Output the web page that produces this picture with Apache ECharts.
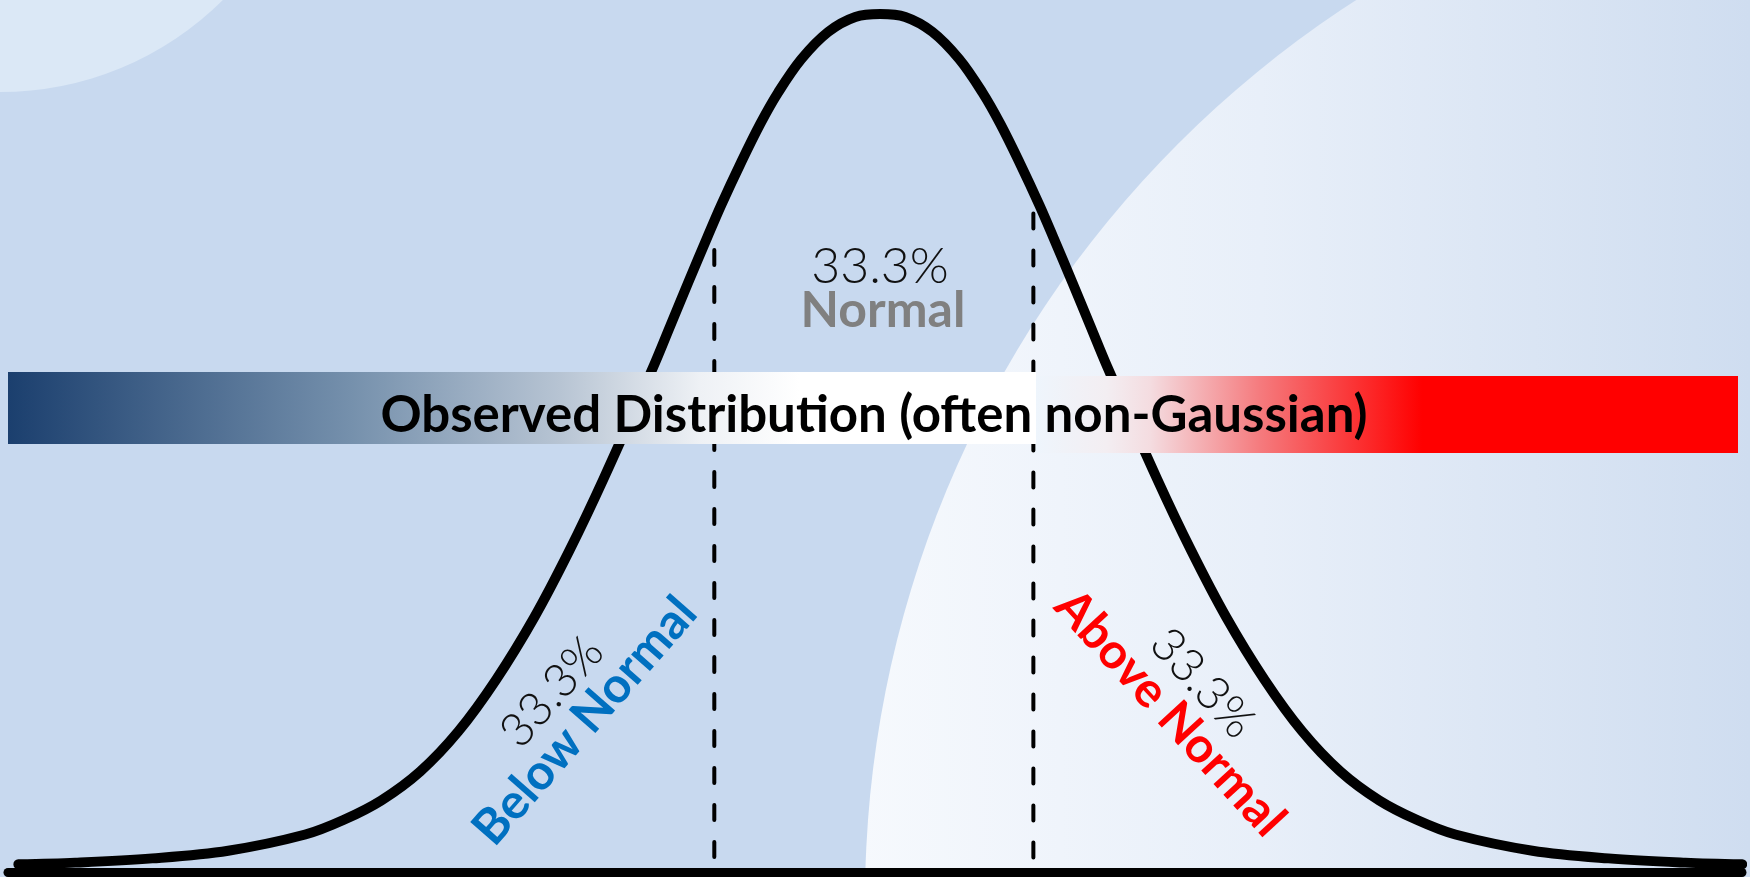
<!DOCTYPE html>
<html>
<head>
<meta charset="utf-8">
<script src="https://cdn.jsdelivr.net/npm/echarts@6/dist/echarts.min.js"></script>
<style>
  html, body { margin: 0; padding: 0; background: #c8d9ef; overflow: hidden; }
  #chart { width: 1750px; height: 877px; }
</style>
</head>
<body>
<div id="chart"></div>
<script>
// Bell curve, sampled in standard-deviation units (z) with relative density (peak = 1)
const curveZ = [
  -4.071, -3.802, -3.439, -3.080, -2.716, -2.536, -2.357, -2.173, -1.993, -1.814,
  -1.634, -1.469, -1.308, -1.072, -0.992, -0.907, -0.817, -0.751, -0.661, -0.567,
  -0.482, -0.373, -0.246, -0.118, 0.000, 0.118, 0.246, 0.373, 0.482, 0.567,
  0.661, 0.751, 0.817, 0.907, 0.992, 1.072, 1.308, 1.469, 1.634, 1.814,
  1.993, 2.173, 2.357, 2.536, 2.716, 3.080, 3.439, 3.802, 4.071
];
const curveDensity = [
  0.002, 0.004, 0.009, 0.018, 0.037, 0.054, 0.077, 0.111, 0.158, 0.219,
  0.292, 0.370, 0.454, 0.586, 0.634, 0.685, 0.738, 0.776, 0.824, 0.871,
  0.908, 0.947, 0.979, 0.9965, 1.000, 0.9965, 0.979, 0.947, 0.908, 0.871,
  0.824, 0.776, 0.738, 0.685, 0.634, 0.586, 0.454, 0.370, 0.292, 0.219,
  0.158, 0.111, 0.077, 0.054, 0.037, 0.018, 0.009, 0.004, 0.002
];

// Tercile boundaries (z) and the height where each dashed divider meets the curve
const dividerZ = [-0.784, 0.723];
const dividerTop = [0.723, 0.766];
const dividerBottom = -0.006;

// Category labels
const tercileNames = ['Below Normal', 'Normal', 'Above Normal'];
const tercileShares = ['33.3%', '33.3%', '33.3%'];
const bannerTitle = 'Observed Distribution (often non-Gaussian)';

const FONT = 'Lato, "Open Sans", "DejaVu Sans", sans-serif';
const chart = echarts.init(document.getElementById('chart'), null, { renderer: 'canvas' });

const curveData = curveZ.map((z, i) => [z, curveDensity[i]]);

const dividerSeries = dividerZ.map((z, i) => ({
  type: 'line',
  data: [[z, dividerTop[i]], [z, dividerBottom]],
  showSymbol: false,
  silent: true,
  clip: false,
  z: 2,
  lineStyle: { color: '#000', width: 4, type: [15, 22], cap: 'round' }
}));

function labelText(x, y, text, font, fill) {
  return {
    type: 'text', x: x, y: y, z: 30, silent: true,
    style: { text: text, font: font, fill: fill, align: 'center', verticalAlign: 'middle',
             textAlign: 'center', textVerticalAlign: 'middle' }
  };
}

function rotatedPair(cx, cy, angleDeg, name, nameColor, share) {
  return {
    type: 'group', x: cx, y: cy, rotation: angleDeg * Math.PI / 180, z: 30,
    children: [
      labelText(0, -44, share, '300 47px ' + FONT, '#111'),
      labelText(0, 0, name, 'bold 49px ' + FONT, nameColor)
    ]
  };
}

const option = {
  backgroundColor: '#c8d9ef',
  animation: false,
  grid: { left: 8, right: 8, top: 14, bottom: 5, containLabel: false },
  xAxis: {
    type: 'value', min: -4.12, max: 4.07,
    axisLine: { show: true, onZero: false, lineStyle: { color: '#000', width: 9, cap: 'round' } },
    axisTick: { show: false }, axisLabel: { show: false }, splitLine: { show: false }
  },
  yAxis: { type: 'value', min: -0.007, max: 1, show: false, splitLine: { show: false } },
  graphic: [
    // soft background discs
    { type: 'circle', z: -10, silent: true, shape: { cx: 0, cy: -224, r: 316 },
      style: { fill: '#dbe8f6' } },
    { type: 'circle', z: -10, silent: true, shape: { cx: 1935, cy: 900, r: 1070 },
      style: { fill: { type: 'linear', global: true, x: 860, y: 0, x2: 1750, y2: 0,
        colorStops: [ { offset: 0, color: '#f6f9fd' }, { offset: 0.45, color: '#e8eff9' },
                      { offset: 1, color: '#cfddf0' } ] } } },
    // banner: cold-to-neutral half and neutral-to-warm half
    { type: 'rect', z: 20, silent: true, shape: { x: 8, y: 372, width: 1028, height: 72 },
      style: { fill: { type: 'linear', x: 0, y: 0, x2: 1, y2: 0, colorStops: [
        { offset: 0, color: '#1b3f6e' }, { offset: 0.333, color: '#7590ac' },
        { offset: 0.537, color: '#b7c4d3' }, { offset: 0.673, color: '#eef1f5' },
        { offset: 0.77, color: '#ffffff' }, { offset: 1, color: '#ffffff' } ] } } },
    { type: 'rect', z: 20, silent: true, shape: { x: 1036, y: 376, width: 702, height: 77 },
      style: { fill: { type: 'linear', x: 0, y: 0, x2: 1, y2: 0, colorStops: [
        { offset: 0, color: '#eef5fc' }, { offset: 0.1, color: '#f3eef2' },
        { offset: 0.163, color: '#f4dce0' }, { offset: 0.32, color: '#f57a7d' },
        { offset: 0.55, color: '#ff0000' }, { offset: 1, color: '#ff0000' } ] } } },
    labelText(874, 416, bannerTitle, 'bold 51px ' + FONT, '#000'),
    // tercile annotations
    labelText(880, 267, tercileShares[1], '300 50px ' + FONT, '#111'),
    labelText(883, 311, tercileNames[1], 'bold 50px ' + FONT, '#808080'),
    rotatedPair(585, 721, 48.7, tercileNames[0], '#0070c0', tercileShares[0]),
    rotatedPair(1170, 713, -47.5, tercileNames[2], '#ff0000', tercileShares[2])
  ],
  series: [
    {
      type: 'line',
      data: curveData,
      smooth: 0.35,
      showSymbol: false,
      silent: true,
      clip: false,
      z: 3,
      lineStyle: { color: '#000', width: 10, cap: 'round', join: 'round' }
    },
    ...dividerSeries
  ]
};

chart.setOption(option);
</script>
</body>
</html>
